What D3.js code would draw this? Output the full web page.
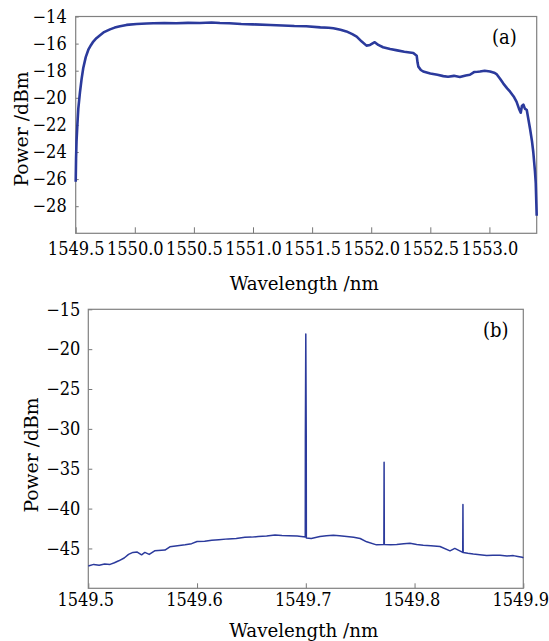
<!DOCTYPE html>
<html>
<head>
<meta charset="utf-8">
<script src="https://cdn.jsdelivr.net/npm/d3@7"></script>
<style>
  body { margin: 0; background: #fff; }
  text { font-family: "DejaVu Serif Condensed", "Liberation Serif", serif; fill: #000; }
</style>
</head>
<body>
<svg id="chart"></svg>
<script>
// panel (a) spectrum, wavelength in nm / power in dBm
const waveA = [1549.500, 1549.503, 1549.507, 1549.514, 1549.522, 1549.536, 1549.550, 1549.564, 1549.585, 1549.607,
  1549.630, 1549.649, 1549.675, 1549.706, 1549.740, 1549.790, 1549.830, 1549.875, 1549.930, 1550.016,
  1550.100, 1550.157, 1550.250, 1550.350, 1550.450, 1550.550, 1550.650, 1550.720, 1550.800, 1550.900,
  1551.000, 1551.146, 1551.250, 1551.350, 1551.450, 1551.570, 1551.640, 1551.680, 1551.740, 1551.790,
  1551.840, 1551.877, 1551.920, 1551.960, 1551.990, 1552.030, 1552.060, 1552.100, 1552.160, 1552.220,
  1552.280, 1552.356, 1552.385, 1552.392, 1552.399, 1552.420, 1552.440, 1552.500, 1552.560, 1552.610,
  1552.650, 1552.700, 1552.750, 1552.800, 1552.835, 1552.870, 1552.900, 1552.920, 1552.960, 1553.005,
  1553.040, 1553.060, 1553.090, 1553.118, 1553.150, 1553.175, 1553.205, 1553.230, 1553.250, 1553.265,
  1553.275, 1553.287, 1553.300, 1553.316, 1553.330, 1553.344, 1553.360, 1553.371, 1553.385, 1553.392,
  1553.397, 1553.400];
const powerA = [-26.2, -24.5, -23.2, -22.0, -20.8, -19.6, -18.6, -17.8, -17.0, -16.45,
  -16.1, -15.85, -15.6, -15.38, -15.15, -14.95, -14.82, -14.72, -14.62, -14.55,
  -14.52, -14.5, -14.48, -14.5, -14.47, -14.48, -14.44, -14.48, -14.5, -14.55,
  -14.58, -14.63, -14.66, -14.7, -14.72, -14.8, -14.83, -14.87, -14.98, -15.1,
  -15.3, -15.48, -15.85, -16.15, -16.1, -15.9, -16.1, -16.27, -16.4, -16.5,
  -16.6, -16.7, -16.9, -17.4, -17.7, -17.95, -18.06, -18.2, -18.3, -18.4,
  -18.45, -18.38, -18.47, -18.35, -18.3, -18.1, -18.08, -18.06, -18.0, -18.06,
  -18.15, -18.25, -18.6, -18.95, -19.3, -19.55, -19.9, -20.3, -20.8, -21.1,
  -20.6, -20.5, -20.8, -20.9, -21.6, -22.3, -23.2, -24.0, -25.4, -26.3,
  -27.8, -28.7];

// panel (b) spectrum with three spikes
const waveB = [1549.500, 1549.505, 1549.510, 1549.515, 1549.520, 1549.524, 1549.528, 1549.533, 1549.537, 1549.541,
  1549.545, 1549.549, 1549.552, 1549.556, 1549.561, 1549.5705, 1549.575, 1549.582, 1549.589, 1549.595,
  1549.600, 1549.607, 1549.6135, 1549.620, 1549.6287, 1549.636, 1549.644, 1549.650, 1549.6563, 1549.664,
  1549.6717, 1549.678, 1549.684, 1549.692, 1549.6995, 1549.6996, 1549.7000, 1549.7004, 1549.7005, 1549.705,
  1549.713, 1549.719, 1549.7253, 1549.731, 1549.7376, 1549.744, 1549.750, 1549.756, 1549.765, 1549.7718,
  1549.7720, 1549.7722, 1549.778, 1549.7836, 1549.790, 1549.7958, 1549.802, 1549.808, 1549.815, 1549.8234,
  1549.8326, 1549.837, 1549.8443, 1549.8445, 1549.8447, 1549.849, 1549.854, 1549.860, 1549.8663, 1549.872,
  1549.8786, 1549.885, 1549.8908, 1549.895, 1549.899, 1549.900];
const powerB = [-47.2, -47.0, -47.1, -46.95, -47.0, -46.8, -46.55, -46.2, -45.75, -45.5,
  -45.45, -45.8, -45.5, -45.75, -45.3, -45.2, -44.8, -44.65, -44.55, -44.4,
  -44.13, -44.1, -43.96, -43.9, -43.8, -43.75, -43.6, -43.58, -43.5, -43.45,
  -43.3, -43.38, -43.4, -43.45, -43.55, -31.0, -18.1, -31.0, -43.7, -43.75,
  -43.5, -43.4, -43.34, -43.4, -43.5, -43.6, -43.75, -44.17, -44.55, -44.5,
  -34.2, -44.5, -44.55, -44.5, -44.4, -44.34, -44.5, -44.6, -44.65, -44.75,
  -45.3, -45.0, -45.5, -39.5, -45.5, -45.6, -45.7, -45.8, -45.9, -45.85,
  -45.84, -45.95, -45.9, -46.0, -46.1, -46.2];

// tick values
const xTicksA = [1549.5, 1550.0, 1550.5, 1551.0, 1551.5, 1552.0, 1552.5, 1553.0];
const yTicksA = [-28, -26, -24, -22, -20, -18, -16, -14];
const xTicksB = [1549.5, 1549.6, 1549.7, 1549.8, 1549.9];
const yTicksB = [-45, -40, -35, -30, -25, -20, -15];

const W = 549, H = 641;
const svg = d3.select("#chart").attr("width", W).attr("height", H);

const lineColor = "#2b3a9c";
const fontFam = "DejaVu Serif Condensed";

function panel(cfg) {
  const x = d3.scaleLinear().domain(cfg.xDomain).range([cfg.left, cfg.right]);
  const y = d3.scaleLinear().domain(cfg.yDomain).range([cfg.bottom, cfg.top]);
  const g = svg.append("g");

  // x axis, ticks pointing inward
  const gx = g.append("g")
    .attr("transform", `translate(0,${cfg.bottom})`)
    .call(d3.axisBottom(x).tickValues(cfg.xTicks).tickFormat(d3.format(".1f"))
      .tickSizeInner(-cfg.xTickLen).tickSizeOuter(0).tickPadding(cfg.xPad));
  gx.select(".domain").remove();
  gx.selectAll(".tick line").attr("stroke", "#777");
  gx.selectAll(".tick text").attr("font-size", 18).attr("font-family", fontFam)
    .attr("fill", "#000").attr("dx", cfg.xLabelShift);

  // y axis
  const gy = g.append("g")
    .attr("transform", `translate(${cfg.left},0)`)
    .call(d3.axisLeft(y).tickValues(cfg.yTicks).tickFormat(d3.format("d"))
      .tickSizeInner(-cfg.yTickLen).tickSizeOuter(0).tickPadding(cfg.yPad));
  gy.select(".domain").remove();
  gy.selectAll(".tick line").attr("stroke", "#777");
  gy.selectAll(".tick text").attr("font-size", 18).attr("font-family", fontFam)
    .attr("fill", "#000");

  // frame
  g.append("rect")
    .attr("x", cfg.left).attr("y", cfg.top)
    .attr("width", cfg.right - cfg.left).attr("height", cfg.bottom - cfg.top)
    .attr("fill", "none").attr("stroke", "#808080").attr("stroke-width", 1.2);

  // trace
  const pts = cfg.xs.map((d, i) => [d, cfg.ys[i]]);
  g.append("path")
    .datum(pts)
    .attr("fill", "none")
    .attr("stroke", lineColor)
    .attr("stroke-width", cfg.lineWidth)
    .attr("stroke-linejoin", "round")
    .attr("d", d3.line().x(d => x(d[0])).y(d => y(d[1])));

  // axis labels
  g.append("text")
    .attr("x", (cfg.left + cfg.right) / 2 - 2).attr("y", cfg.xLabelY)
    .attr("text-anchor", "middle").attr("font-size", 19)
    .attr("textLength", 149).attr("lengthAdjust", "spacingAndGlyphs")
    .text("Wavelength /nm");
  g.append("text")
    .attr("transform", `translate(${cfg.yLabelX},${cfg.yLabelMid}) rotate(-90)`)
    .attr("text-anchor", "middle").attr("font-size", 19)
    .attr("textLength", 115).attr("lengthAdjust", "spacingAndGlyphs")
    .text("Power /dBm");

  // panel tag
  g.append("text")
    .attr("x", cfg.tagX).attr("y", cfg.tagY)
    .attr("font-size", 20)
    .text(cfg.tag);
}

panel({
  xs: waveA, ys: powerA, xTicks: xTicksA, yTicks: yTicksA,
  xDomain: [1549.5, 1553.4], yDomain: [-30, -14],
  left: 75.7, right: 536.7, top: 16.5, bottom: 233.3,
  xTickLen: 6, yTickLen: 3, xPad: 9, yPad: 9, xLabelShift: 0,
  lineWidth: 2.6,
  xLabelY: 290, yLabelX: 28, yLabelMid: 129,
  tag: "(a)", tagX: 492, tagY: 44
});

panel({
  xs: waveB, ys: powerB, xTicks: xTicksB, yTicks: yTicksB,
  xDomain: [1549.5, 1549.9], yDomain: [-50, -15],
  left: 88.3, right: 523.3, top: 309.3, bottom: 588.3,
  xTickLen: 5, yTickLen: 4, xPad: 5, yPad: 8, xLabelShift: -3,
  lineWidth: 1.5,
  xLabelY: 637, yLabelX: 38, yLabelMid: 455,
  tag: "(b)", tagX: 483, tagY: 337
});
</script>
</body>
</html>
